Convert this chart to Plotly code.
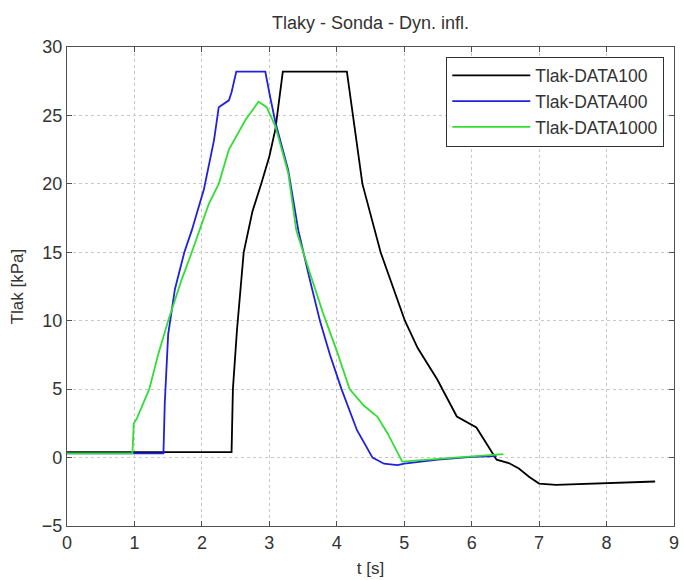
import plotly.graph_objects as go

# DATA100 (black)
t100 = [0, 1.0, 2.0, 2.44, 2.46, 2.52, 2.62, 2.75, 2.88, 3.0, 3.09, 3.2, 3.6, 4.15, 4.38, 4.65, 5.01, 5.2, 5.49, 5.78, 6.07, 6.2, 6.37, 6.55, 6.7, 6.85, 7.0, 7.25, 7.6, 8.0, 8.4, 8.72]
p100 = [0.4, 0.4, 0.4, 0.4, 5.0, 9.3, 15.0, 18.0, 20.0, 22.0, 24.0, 28.2, 28.2, 28.2, 20.0, 15.0, 10.0, 8.0, 5.7, 3.0, 2.2, 1.2, -0.15, -0.4, -0.8, -1.4, -1.9, -2.0, -1.95, -1.85, -1.8, -1.75]

# DATA400 (blue)
t400 = [0, 0.5, 1.0, 1.43, 1.45, 1.5, 1.6, 1.74, 1.85, 2.03, 2.18, 2.25, 2.4, 2.44, 2.51, 2.7, 2.94, 3.01, 3.09, 3.28, 3.43, 3.6, 3.75, 3.9, 4.07, 4.3, 4.53, 4.7, 4.9, 5.0, 5.5, 6.0, 6.37]
p400 = [0.3, 0.3, 0.3, 0.3, 4.0, 9.0, 12.3, 15.0, 16.6, 19.6, 23.2, 25.6, 26.1, 26.7, 28.2, 28.2, 28.2, 26.4, 24.5, 21.0, 16.6, 13.0, 10.0, 7.5, 5.0, 2.0, 0.0, -0.45, -0.55, -0.45, -0.15, 0.05, 0.1]

# DATA1000 (green)
t1000 = [0, 0.5, 0.97, 0.99, 1.03, 1.22, 1.35, 1.5, 1.7, 1.85, 1.96, 2.1, 2.25, 2.4, 2.65, 2.84, 2.96, 3.09, 3.28, 3.4, 3.6, 3.8, 4.0, 4.19, 4.4, 4.6, 4.75, 4.97, 5.5, 6.0, 6.47]
p1000 = [0.3, 0.3, 0.3, 2.5, 2.8, 5.0, 7.5, 10.0, 13.0, 15.0, 16.6, 18.5, 20.0, 22.5, 24.7, 26.0, 25.6, 24.2, 20.8, 16.6, 13.5, 10.5, 7.8, 5.0, 3.8, 3.0, 1.8, -0.3, -0.1, 0.1, 0.25]

series = [("Tlak-DATA100", t100, p100, "#000000"),
          ("Tlak-DATA400", t400, p400, "#2020e0"),
          ("Tlak-DATA1000", t1000, p1000, "#33dd33")]

fig = go.Figure()
for name, t, p, c in series:
    fig.add_trace(go.Scatter(x=t, y=p, mode="lines", name=name,
                             line=dict(color=c, width=1.8)))

axis_common = dict(showgrid=True, gridcolor="#c8c8c8", griddash="dot", gridwidth=1,
                   zeroline=False, showline=True, linecolor="#505050", linewidth=1.2,
                   mirror="ticks", ticks="inside", ticklen=5, tickcolor="#505050",
                   tickfont=dict(size=18, color="#333"), ticklabeloverflow="allow")

fig.update_layout(
    width=684, height=580,
    margin=dict(l=67, r=5, t=47, b=53),
    paper_bgcolor="white", plot_bgcolor="white",
    font=dict(family="Liberation Sans, Arial, sans-serif", size=17, color="#333"),
    title=dict(text="Tlaky - Sonda - Dyn. infl.", x=0.5, xref="paper", xanchor="center",
               y=1 - 23 / 580, yref="container", yanchor="middle", font=dict(size=18)),
    xaxis=dict(range=[0, 9], dtick=1, title=dict(text="t [s]", standoff=10, font=dict(size=17)), **axis_common),
    yaxis=dict(range=[-5, 30], dtick=5, title=dict(text="Tlak [kPa]", standoff=13, font=dict(size=17)), **axis_common),
    legend=dict(x=0.984, xanchor="right", y=0.98, yanchor="top",
                bordercolor="#333", borderwidth=1, bgcolor="white",
                font=dict(size=17.5), tracegroupgap=0, itemwidth=78),
)

fig.write_html("out.html")
